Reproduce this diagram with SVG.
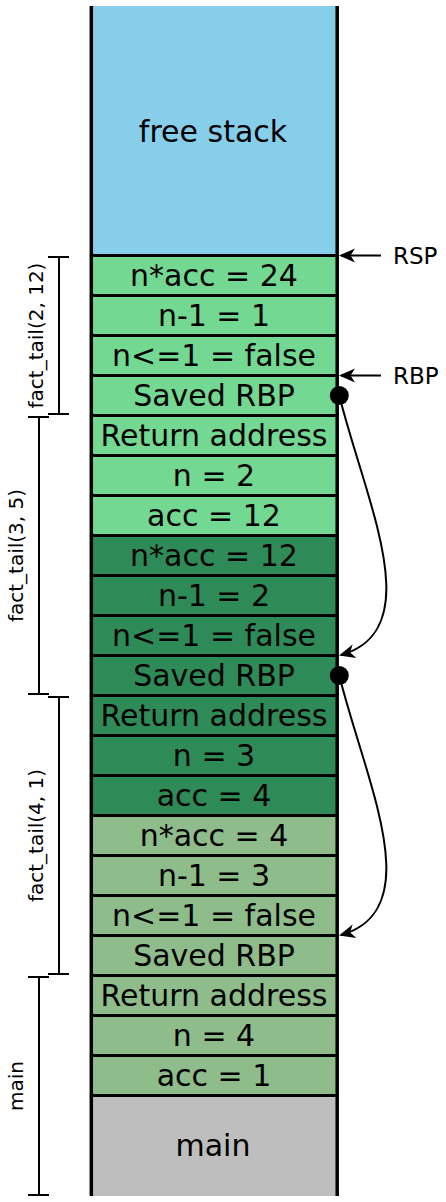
<svg xmlns="http://www.w3.org/2000/svg" width="446" height="1202" viewBox="0 0 446 1202">
<style>
.cell{stroke:none}
.L{fill:#72d892}
.D{fill:#2e8b57}
.P{fill:#8fbc8b}
.t{font-family:"DejaVu Sans","Liberation Sans",sans-serif;font-size:30px;fill:#000;text-anchor:middle}
.lab{font-family:"DejaVu Sans","Liberation Sans",sans-serif;font-size:23px;fill:#000}
.bl{font-family:"DejaVu Sans","Liberation Sans",sans-serif;font-size:20px;fill:#000;text-anchor:middle}
.sep{stroke:#000;stroke-width:3}
.br{stroke:#000;stroke-width:2;fill:none}
.ar{stroke:#000;stroke-width:2;fill:none;marker-end:url(#head)}
</style>
<defs>
<marker id="head" markerUnits="userSpaceOnUse" viewBox="0 0 16 16" refX="14" refY="8" markerWidth="16" markerHeight="16" orient="auto">
<path d="M16,8 L0,1 L4.5,8 L0,15 Z" fill="#000"/>
</marker>
</defs>
<rect width="446" height="1202" fill="#fff"/>
<g id="free-stack"><rect class="cell" x="91.5" y="6" width="245.5" height="249.5" fill="#87ceeb"/><text class="t" x="213" y="141.5">free stack</text></g>
<g id="row0"><rect class="cell L" x="91.5" y="255.5" width="245.5" height="40"/><text class="t" x="214" y="285.5">n*acc = 24</text></g>
<g id="row1"><rect class="cell L" x="91.5" y="295.5" width="245.5" height="40"/><text class="t" x="214" y="325.5">n-1 = 1</text></g>
<g id="row2"><rect class="cell L" x="91.5" y="335.5" width="245.5" height="40"/><text class="t" x="214" y="365.5">n&lt;=1 = false</text></g>
<g id="row3"><rect class="cell L" x="91.5" y="375.5" width="245.5" height="40"/><text class="t" x="214" y="405.5">Saved RBP</text></g>
<g id="row4"><rect class="cell L" x="91.5" y="415.5" width="245.5" height="40"/><text class="t" x="214" y="445.5">Return address</text></g>
<g id="row5"><rect class="cell L" x="91.5" y="455.5" width="245.5" height="40"/><text class="t" x="214" y="485.5">n = 2</text></g>
<g id="row6"><rect class="cell L" x="91.5" y="495.5" width="245.5" height="40"/><text class="t" x="214" y="525.5">acc = 12</text></g>
<g id="row7"><rect class="cell D" x="91.5" y="535.5" width="245.5" height="40"/><text class="t" x="214" y="565.5">n*acc = 12</text></g>
<g id="row8"><rect class="cell D" x="91.5" y="575.5" width="245.5" height="40"/><text class="t" x="214" y="605.5">n-1 = 2</text></g>
<g id="row9"><rect class="cell D" x="91.5" y="615.5" width="245.5" height="40"/><text class="t" x="214" y="645.5">n&lt;=1 = false</text></g>
<g id="row10"><rect class="cell D" x="91.5" y="655.5" width="245.5" height="40"/><text class="t" x="214" y="685.5">Saved RBP</text></g>
<g id="row11"><rect class="cell D" x="91.5" y="695.5" width="245.5" height="40"/><text class="t" x="214" y="725.5">Return address</text></g>
<g id="row12"><rect class="cell D" x="91.5" y="735.5" width="245.5" height="40"/><text class="t" x="214" y="765.5">n = 3</text></g>
<g id="row13"><rect class="cell D" x="91.5" y="775.5" width="245.5" height="40"/><text class="t" x="214" y="805.5">acc = 4</text></g>
<g id="row14"><rect class="cell P" x="91.5" y="815.5" width="245.5" height="40"/><text class="t" x="214" y="845.5">n*acc = 4</text></g>
<g id="row15"><rect class="cell P" x="91.5" y="855.5" width="245.5" height="40"/><text class="t" x="214" y="885.5">n-1 = 3</text></g>
<g id="row16"><rect class="cell P" x="91.5" y="895.5" width="245.5" height="40"/><text class="t" x="214" y="925.5">n&lt;=1 = false</text></g>
<g id="row17"><rect class="cell P" x="91.5" y="935.5" width="245.5" height="40"/><text class="t" x="214" y="965.5">Saved RBP</text></g>
<g id="row18"><rect class="cell P" x="91.5" y="975.5" width="245.5" height="40"/><text class="t" x="214" y="1005.5">Return address</text></g>
<g id="row19"><rect class="cell P" x="91.5" y="1015.5" width="245.5" height="40"/><text class="t" x="214" y="1045.5">n = 4</text></g>
<g id="row20"><rect class="cell P" x="91.5" y="1055.5" width="245.5" height="40"/><text class="t" x="214" y="1085.5">acc = 1</text></g>
<g id="main-frame"><rect class="cell" x="91.5" y="1095.5" width="245.5" height="100.5" fill="#bebebe"/><text class="t" x="213" y="1156">main</text></g>
<g id="grid">
<path class="sep" d="M91.5,255.5H337M91.5,295.5H337M91.5,335.5H337M91.5,375.5H337M91.5,415.5H337M91.5,455.5H337M91.5,495.5H337M91.5,535.5H337M91.5,575.5H337M91.5,615.5H337M91.5,655.5H337M91.5,695.5H337M91.5,735.5H337M91.5,775.5H337M91.5,815.5H337M91.5,855.5H337M91.5,895.5H337M91.5,935.5H337M91.5,975.5H337M91.5,1015.5H337M91.5,1055.5H337M91.5,1095.5H337"/>
<path d="M91.3,6V1196M337.2,6V1196" stroke="#000" stroke-width="3.5"/>
</g>
<g id="bracket-fact_tail-2-12"><path class="br" d="M48,257H69M59,257V414M48,414H69"/><text class="bl" transform="translate(43,335.5) rotate(-90)">fact_tail(2, 12)</text></g>
<g id="bracket-fact_tail-3-5"><path class="br" d="M28,417H49M39,417V694M28,694H49"/><text class="bl" transform="translate(23,555.5) rotate(-90)">fact_tail(3, 5)</text></g>
<g id="bracket-fact_tail-4-1"><path class="br" d="M48,697H69M59,697V974M48,974H69"/><text class="bl" transform="translate(43,835.5) rotate(-90)">fact_tail(4, 1)</text></g>
<g id="bracket-main"><path class="br" d="M28,977H49M39,977V1195M28,1195H49"/><text class="bl" transform="translate(23,1086) rotate(-90)">main</text></g>
<g id="label-rsp"><text class="lab" x="393" y="264">RSP</text></g>
<g id="label-rbp"><text class="lab" x="393" y="384">RBP</text></g>
<g id="connectors">
<path class="ar" d="M381,255.5H341"/>
<path class="ar" d="M381,375.5H341"/>
<circle cx="339.3" cy="395.5" r="9.5" fill="#000"/>
<path class="ar" d="M339.3,395.5C365,500 430,630 341,655"/>
<circle cx="339.3" cy="675.5" r="9.5" fill="#000"/>
<path class="ar" d="M339.3,675.5C365,780 430,910 341,935"/>
</g>
</svg>
